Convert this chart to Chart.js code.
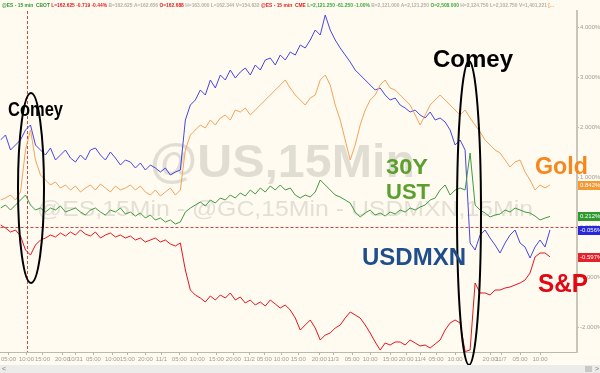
<!DOCTYPE html>
<html>
<head>
<meta charset="utf-8">
<script src="https://cdn.jsdelivr.net/npm/chart.js@4"></script>
<style>
html,body{margin:0;padding:0;background:#fffbf1;}
canvas{display:block;}
</style>
</head>
<body>
<canvas id="chart" width="600" height="373"></canvas>
<script>
// % change, 15min bars, oldest first
const usdmxn = [
  1.74,1.84,1.54,1.64,1.74,1.94,2.04,1.64,1.54,1.44,
  1.58,1.34,1.44,1.54,1.38,1.30,1.44,1.34,1.54,1.58,
  1.44,1.34,1.50,1.38,1.24,1.34,1.30,1.18,1.28,1.14,
  1.24,1.18,1.10,1.18,1.04,1.10,1.14,2.14,2.44,2.54,
  2.74,2.64,2.94,2.78,3.04,2.94,3.14,2.98,3.10,3.18,
  3.04,3.24,3.14,3.34,3.38,3.24,3.44,3.34,3.50,3.44,
  3.64,3.58,3.74,3.94,3.84,4.24,3.94,3.74,3.58,3.44,
  3.30,3.14,3.04,2.94,2.84,2.74,2.78,2.64,2.54,2.58,
  2.44,2.38,2.30,2.34,2.24,2.18,2.30,2.14,2.18,2.10,
  1.94,1.64,1.74,1.54,-0.32,-0.46,-0.16,-0.06,-0.22,-0.36,
  -0.52,-0.32,-0.16,-0.06,-0.32,-0.40,-0.62,-0.40,-0.26,-0.40,
  -0.056
];
const gold = [
  0.54,0.58,0.64,0.54,0.70,1.54,1.94,1.34,1.04,0.94,
  0.84,0.90,0.78,0.84,0.74,0.82,0.70,0.78,0.84,0.74,
  0.86,0.78,0.70,0.82,0.74,0.78,0.84,0.74,0.82,0.70,
  0.64,0.74,0.62,0.70,0.78,0.64,0.74,1.54,1.84,1.94,
  2.04,1.98,2.14,2.04,2.18,2.24,2.14,2.34,2.30,2.38,
  2.24,2.34,2.44,2.54,2.64,2.74,2.84,2.94,2.78,2.64,
  2.54,2.44,2.58,2.64,2.94,3.04,2.84,2.44,2.14,1.74,
  1.34,1.64,2.04,2.34,2.54,2.64,2.84,2.94,2.78,2.74,
  2.64,2.54,2.44,2.24,2.04,2.24,2.44,2.54,2.64,2.54,
  2.44,2.34,2.24,2.34,2.18,2.04,1.90,1.74,1.64,1.54,
  1.48,1.34,1.20,1.30,1.34,1.10,0.94,0.74,0.84,0.78,
  0.842
];
const ust30 = [
  0.38,0.44,0.34,0.44,0.54,0.64,0.44,0.34,0.38,0.30,
  0.38,0.34,0.42,0.30,0.34,0.38,0.30,0.24,0.34,0.38,
  0.30,0.24,0.34,0.30,0.38,0.26,0.30,0.22,0.28,0.18,
  0.24,0.14,0.18,0.10,0.14,0.06,0.10,0.30,0.38,0.44,
  0.50,0.42,0.54,0.48,0.58,0.54,0.64,0.58,0.68,0.62,
  0.74,0.66,0.78,0.70,0.82,0.74,0.84,0.74,0.78,0.64,
  0.58,0.64,0.60,0.70,0.94,0.84,0.74,0.64,0.60,0.54,
  0.48,0.30,0.20,0.28,0.34,0.24,0.28,0.22,0.30,0.26,
  0.34,0.30,0.38,0.34,0.40,0.44,0.54,0.58,0.74,0.84,
  0.64,0.74,0.78,0.74,1.48,0.44,0.34,0.28,0.20,0.24,
  0.26,0.34,0.30,0.38,0.34,0.30,0.28,0.22,0.14,0.18,
  0.212
];
const spx = [
  0.04,-0.02,-0.10,-0.06,-0.18,-0.46,-0.56,-0.36,-0.26,-0.22,
  -0.16,-0.20,-0.12,-0.18,-0.10,-0.16,-0.06,-0.14,-0.18,-0.10,
  -0.22,-0.16,-0.12,-0.20,-0.16,-0.22,-0.18,-0.26,-0.22,-0.30,
  -0.26,-0.22,-0.30,-0.26,-0.34,-0.38,-0.32,-0.86,-1.26,-1.36,
  -1.42,-1.50,-1.38,-1.46,-1.36,-1.42,-1.32,-1.46,-1.40,-1.52,
  -1.46,-1.56,-1.50,-1.58,-1.46,-1.54,-1.62,-1.56,-1.66,-1.82,
  -2.06,-1.96,-1.86,-2.02,-2.26,-2.16,-2.12,-2.02,-1.96,-1.82,
  -1.70,-1.76,-1.82,-1.96,-2.12,-2.30,-2.46,-2.32,-2.36,-2.30,
  -2.30,-2.36,-2.26,-2.32,-2.38,-2.36,-2.42,-2.34,-2.26,-2.06,
  -1.92,-1.86,-1.92,-2.49,-2.46,-1.12,-1.32,-1.32,-1.36,-1.26,
  -1.26,-1.22,-1.20,-1.16,-1.12,-1.06,-0.92,-0.60,-0.52,-0.52,
  -0.597
];

// x ticks (bar index) and their labels
const tickPos = [1.6,5.2,8.4,12.4,15,18.6,22.4,25.4,29,32.2,35.8,39.4,43.2,46.6,49.8,52.8,
  56.2,59.6,63.8,66.6,70.4,74,78,81.2,84,87.2,91,98,100.2,104,108];
const tickLabels = ['05:00','10:00','15:00','20:00','10/31','05:00','10:00','15:00','20:00','11/1',
  '05:00','10:00','15:00','20:00','11/2','05:00','10:00','15:00','20:00','11/3',
  '05:00','10:00','15:00','20:00','11/4','05:00','10:00','20:00','11/7','05:00','10:00'];
const yTicks = [-2,-1,0,1,2,3,4];
const comeyBar = 5.4;

const FONT = '"Liberation Sans", Arial, sans-serif';

function fitText(ctx, txt, x, y, w, size, color, weight) {
  ctx.save();
  ctx.font = (weight || 'bold') + ' ' + size + 'px ' + FONT;
  const m = ctx.measureText(txt).width;
  ctx.translate(x, y);
  ctx.scale(w / m, 1);
  ctx.fillStyle = color;
  ctx.textBaseline = 'alphabetic';
  ctx.fillText(txt, 0, 0);
  ctx.restore();
}

const overlay = {
  id: 'overlay',
  beforeDraw(c) {
    const ctx = c.ctx;
    ctx.save();
    ctx.fillStyle = '#fffbf1';
    ctx.fillRect(0, 0, c.width, c.height);
    ctx.restore();
  },
  beforeDatasetsDraw(c) {
    const ctx = c.ctx, a = c.chartArea;
    const xs = c.scales.x, ys = c.scales.y;
    // watermarks
    fitText(ctx, '@US,15Min', 150, 177, 265, 47, 'rgba(160,158,150,0.32)');
    fitText(ctx, '@ES,15Min - @GC,15Min - USDMXN,15Min', 37, 216, 496, 22, 'rgba(160,158,150,0.3)', 'normal');
    // dotted red guides
    ctx.save();
    ctx.strokeStyle = '#d0463f';
    ctx.lineWidth = 1;
    ctx.setLineDash([3, 2]);
    const y0 = Math.round(ys.getPixelForValue(0)) + 0.5;
    ctx.beginPath(); ctx.moveTo(a.left, y0); ctx.lineTo(a.right, y0); ctx.stroke();
    const xv = Math.round(xs.getPixelForValue(comeyBar)) + 0.5;
    ctx.beginPath(); ctx.moveTo(xv, a.top); ctx.lineTo(xv, a.bottom); ctx.stroke();
    ctx.restore();
  },
  afterDatasetsDraw(c) {
    const ctx = c.ctx;
    ctx.save();
    ctx.strokeStyle = '#000';
    ctx.lineWidth = 2;
    ctx.beginPath(); ctx.ellipse(31, 188, 13, 95, 0, 0, Math.PI * 2); ctx.stroke();
    ctx.beginPath(); ctx.ellipse(469, 213, 12, 152, 0, 0, Math.PI * 2); ctx.stroke();
    ctx.restore();
    fitText(ctx, 'Comey', 8, 116, 55, 21, '#000');
    fitText(ctx, 'Comey', 433, 67, 80, 24, '#000');
    fitText(ctx, '30Y', 386, 174, 42, 22, '#5aa02c');
    fitText(ctx, 'UST', 386, 199, 44, 22, '#5aa02c');
    fitText(ctx, 'Gold', 535, 174, 53, 23, '#f7861c');
    fitText(ctx, 'USDMXN', 362, 265, 104, 24, '#1f4e8c');
    fitText(ctx, 'S&P', 538, 292, 50, 25, '#e30613');
  },
  afterDraw(c) {
    const ctx = c.ctx, ys = c.scales.y;
    // last value tags on the right axis
    const tags = [[gold, '#f39a37'], [ust30, '#2e9a2e'], [usdmxn, '#2828d8'], [spx, '#e3222c']];
    ctx.save();
    ctx.font = '6px ' + FONT;
    ctx.textBaseline = 'middle';
    tags.forEach(([s, col]) => {
      const v = s[s.length - 1];
      const y = Math.round(ys.getPixelForValue(v));
      ctx.fillStyle = col;
      ctx.fillRect(578, y - 4, 22, 9);
      ctx.fillStyle = '#fff';
      ctx.fillText(v.toFixed(3) + '%', 580, y + 0.5);
    });
    ctx.restore();

    // header line
    const segs = [
      ['@ES - 15 min  CBOT ', '#2e9a2e'], ['L=162.625 -0.719 -0.44% ', '#e02020'],
      ['B=162.625 A=162.656 ', '#b5b0a5'], ['O=162.688 ', '#e02020'],
      ['H=163.000 L=162.344 V=154.632 ', '#b5b0a5'], ['@ES - 15 min  CME ', '#e02020'],
      ['L=2,121.250 -61.250 -1.00% ', '#3aa83a'], ['B=2,121.000 A=2,121.250 ', '#b5b0a5'],
      ['O=2,508.000 ', '#3aa83a'], ['H=2,124.750 L=2,102.750 V=1,401,221 ', '#b5b0a5'], ['[...', '#f0a050']
    ];
    ctx.save();
    ctx.font = 'bold 6px ' + FONT;
    ctx.textBaseline = 'alphabetic';
    const total = segs.reduce((t, s) => t + ctx.measureText(s[0]).width, 0);
    ctx.translate(2, 7);
    ctx.scale(552 / total, 1);
    let x = 0;
    segs.forEach(([t, col]) => {
      ctx.fillStyle = col;
      ctx.fillText(t, x, 0);
      x += ctx.measureText(t).width;
    });
    ctx.restore();

    // scroll bar strip
    ctx.save();
    ctx.fillStyle = '#ececea';
    ctx.fillRect(0, 365, 600, 8);
    ctx.fillStyle = '#c8c8c6';
    ctx.fillRect(585, 366, 7, 6);
    ctx.fillStyle = '#777';
    ctx.font = '7px ' + FONT;
    ctx.textBaseline = 'middle';
    ctx.fillText('<', 2, 369);
    ctx.fillText('>', 595, 369);
    ctx.restore();
  }
};

const pts = s => s.map((v, i) => ({ x: i, y: v }));
const line = (s, col) => ({
  data: pts(s), borderColor: col, borderWidth: 1, pointRadius: 0, tension: 0, fill: false
});

new Chart(document.getElementById('chart'), {
  type: 'line',
  data: {
    datasets: [
      line(gold, '#f5a25a'),
      line(ust30, '#3f9a3f'),
      line(usdmxn, '#4646e6'),
      line(spx, '#e8141c')
    ]
  },
  options: {
    responsive: false,
    animation: false,
    devicePixelRatio: 1,
    layout: { padding: { left: 0, right: 0, top: 11, bottom: 8 } },
    plugins: { legend: { display: false }, tooltip: { enabled: false } },
    scales: {
      x: {
        type: 'linear', min: 0, max: 115.4,
        afterBuildTicks: ax => { ax.ticks = tickPos.map(v => ({ value: v })); },
        afterFit: ax => { ax.height = 13; },
        ticks: {
          autoSkip: false, maxRotation: 0, padding: 1,
          color: '#a09c94', font: { size: 6, family: FONT },
          callback: (v, i) => tickLabels[i]
        },
        grid: { drawOnChartArea: false, tickLength: 3, color: '#b8b3a8' },
        border: { color: '#bdb8ac', width: 1 }
      },
      y: {
        position: 'right', min: -2.5, max: 4.32,
        afterBuildTicks: ax => { ax.ticks = yTicks.map(v => ({ value: v })); },
        afterFit: ax => { ax.width = 23; },
        ticks: {
          padding: 1, color: '#a09c94', font: { size: 6, family: FONT },
          callback: v => v.toFixed(3) + '%'
        },
        grid: { drawOnChartArea: false, tickLength: 2, color: '#b8b3a8' },
        border: { color: '#cbc5b8', width: 2 }
      }
    }
  },
  plugins: [overlay]
});
</script>
</body>
</html>
